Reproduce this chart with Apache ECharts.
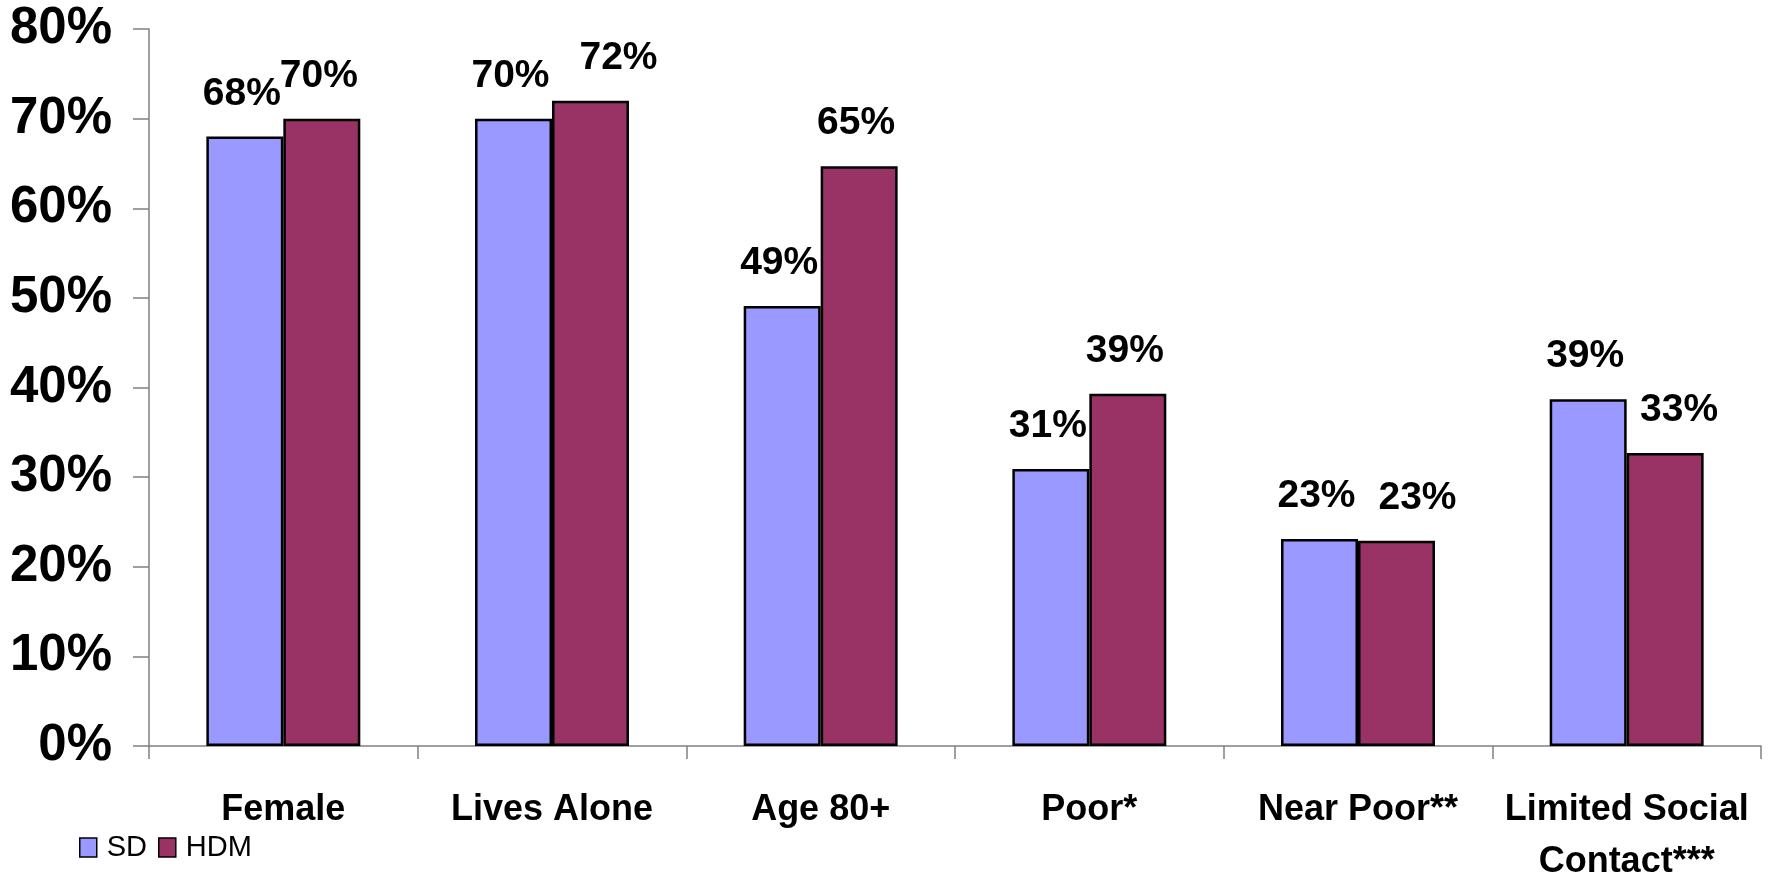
<!DOCTYPE html>
<html>
<head>
<meta charset="utf-8">
<script src="https://cdn.jsdelivr.net/npm/echarts@6/dist/echarts.min.js"></script>
<style>
html,body{margin:0;padding:0;background:#fff;}
#chart{width:1772px;height:878px;}
</style>
</head>
<body>
<div id="chart"></div>
<script>
const categories = ['Female', 'Lives Alone', 'Age 80+', 'Poor*', 'Near Poor**', 'Limited Social\nContact***'];
const seriesNames = ['SD', 'HDM'];
const sdValues = [68, 70, 49.1, 30.9, 23.1, 38.7];
const hdmValues = [70, 72, 64.7, 39.3, 22.9, 32.7];
const yTicks = [0, 10, 20, 30, 40, 50, 60, 70, 80];

const FONT = '"Liberation Sans", Arial, sans-serif';
// label horizontal nudges (styling only)
const hdmLabelShift = [0, 31, 0, 0, 24, 17];

const chart = echarts.init(document.getElementById('chart'), null, {renderer: 'canvas'});

function labelCfg(shift) {
  return {
    show: true,
    position: 'top',
    distance: 23,
    offset: [shift - 3, 0],
    formatter: p => Math.round(p.value) + '%',
    fontFamily: FONT,
    fontWeight: 'bold',
    fontSize: 39,
    color: '#000'
  };
}

chart.setOption({
  animation: false,
  backgroundColor: '#fff',
  grid: {left: 149, right: 11, top: 29, bottom: 132, containLabel: false, outerBoundsMode: 'none'},
  legend: {
    left: 79, top: 833, padding: 0,
    itemWidth: 17, itemHeight: 19, itemGap: 11,
    icon: 'rect',
    itemStyle: {borderColor: '#000', borderWidth: 1.5},
    textStyle: {fontFamily: FONT, fontSize: 29, color: '#000', padding: [2, 0, 0, 5]},
    data: seriesNames
  },
  xAxis: {
    type: 'category',
    data: categories,
    axisLine: {lineStyle: {color: '#808080', width: 1.5}},
    axisTick: {show: true, length: 13, alignWithLabel: false, lineStyle: {color: '#808080', width: 1.5}},
    axisLabel: {
      interval: 0, margin: 38,
      fontFamily: FONT, fontWeight: 'bold', fontSize: 36, color: '#000', lineHeight: 52
    }
  },
  yAxis: {
    type: 'value',
    min: yTicks[0], max: yTicks[yTicks.length - 1], interval: 10,
    axisLine: {show: true, lineStyle: {color: '#808080', width: 1.5}},
    axisTick: {show: true, inside: false, length: 16, lineStyle: {color: '#808080', width: 1.5}},
    splitLine: {show: false},
    axisLabel: {
      margin: 37,
      formatter: v => v + '%',
      fontFamily: FONT, fontWeight: 'bold', fontSize: 51, color: '#000'
    }
  },
  series: [
    {
      name: seriesNames[0], type: 'bar',
      data: sdValues.map(v => ({value: v, label: labelCfg(0)})),
      barGap: '0%', barCategoryGap: '42.7%',
      itemStyle: {color: '#9999FF', borderColor: '#000', borderWidth: 2.5},
    },
    {
      name: seriesNames[1], type: 'bar',
      data: hdmValues.map((v, i) => ({value: v, label: labelCfg(hdmLabelShift[i])})),
      barGap: '0%', barCategoryGap: '42.7%',
      itemStyle: {color: '#993366', borderColor: '#000', borderWidth: 2.5},
    }
  ]
});
</script>
</body>
</html>
